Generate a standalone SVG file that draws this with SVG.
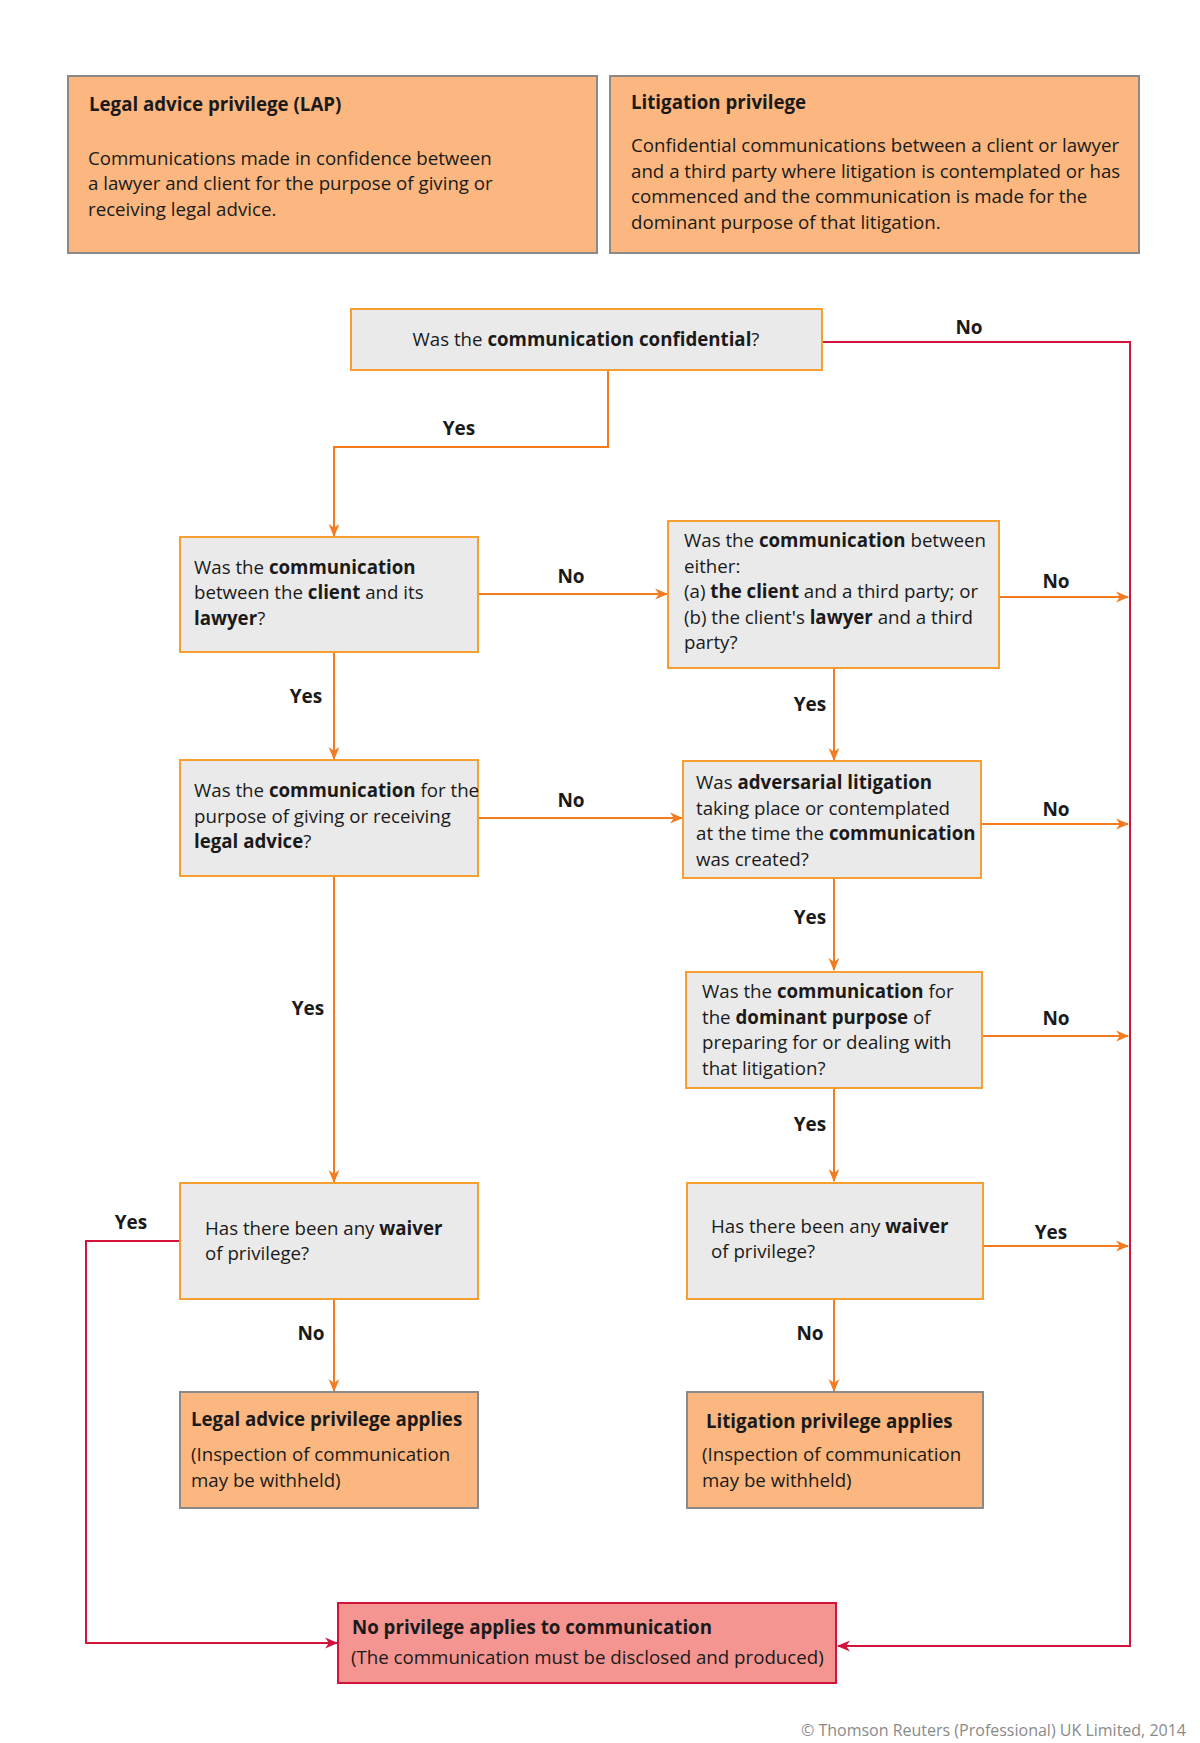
<svg xmlns="http://www.w3.org/2000/svg" width="1200" height="1743" viewBox="0 0 1200 1743">
<style>
text{font-family:"Open Sans","Noto Sans",sans-serif;font-size:18.7px;fill:#1a1a1a}
.b{font-weight:bold}
.lbl{font-weight:bold;font-size:19px;text-anchor:middle}
.info{fill:#FBB77F;stroke:#8a8a8a;stroke-width:2}
.q{fill:#EAEAEA;stroke:#F7A031;stroke-width:2}
.res{fill:#FBB77F;stroke:#8a8a8a;stroke-width:2}
.none{fill:#F49591;stroke:#D2143A;stroke-width:2}
.co{fill:none;stroke:#F47B20;stroke-width:2}
.cr{fill:none;stroke:#D2143A;stroke-width:2}
.copy{font-size:16px;fill:#8a8a8a;text-anchor:end}
</style>
<defs>
<marker id="ao" viewBox="0 0 12 12" refX="11" refY="6" markerWidth="13" markerHeight="13" markerUnits="userSpaceOnUse" orient="auto"><path d="M0,1 L12,6 L0,11 L3.5,6 z" fill="#F47B20"/></marker>
<marker id="ar" viewBox="0 0 12 12" refX="11" refY="6" markerWidth="13" markerHeight="13" markerUnits="userSpaceOnUse" orient="auto"><path d="M0,1 L12,6 L0,11 L3.5,6 z" fill="#D2143A"/></marker>
</defs>
<rect width="1200" height="1743" fill="#fff"/>

<g id="lap-info">
<rect class="info" x="68" y="76" width="529" height="177"/>
<text x="89" y="111" class="b">Legal advice privilege (LAP)</text>
<text x="88" y="165">Communications made in confidence between</text>
<text x="88" y="190">a lawyer and client for the purpose of giving or</text>
<text x="88" y="216">receiving legal advice.</text>
</g>
<g id="lit-info">
<rect class="info" x="610" y="76" width="529" height="177"/>
<text x="631" y="109" class="b">Litigation privilege</text>
<text x="631" y="152">Confidential communications between a client or lawyer</text>
<text x="631" y="178">and a third party where litigation is contemplated or has</text>
<text x="631" y="203">commenced and the communication is made for the</text>
<text x="631" y="229">dominant purpose of that litigation.</text>
</g>

<g id="connectors">
<path class="cr" d="M822,342 H1130 V1646 H838" marker-end="url(#ar)"/>
<path class="co" d="M608,370 V447 H334 V536" marker-end="url(#ao)"/>
<path class="co" d="M478,594 H667" marker-end="url(#ao)"/>
<path class="co" d="M999,597 H1128" marker-end="url(#ao)"/>
<path class="co" d="M334,652 V759" marker-end="url(#ao)"/>
<path class="co" d="M834,668 V760" marker-end="url(#ao)"/>
<path class="co" d="M478,818 H682" marker-end="url(#ao)"/>
<path class="co" d="M981,824 H1128" marker-end="url(#ao)"/>
<path class="co" d="M834,878 V970" marker-end="url(#ao)"/>
<path class="co" d="M982,1036 H1128" marker-end="url(#ao)"/>
<path class="co" d="M834,1088 V1181" marker-end="url(#ao)"/>
<path class="co" d="M334,876 V1182" marker-end="url(#ao)"/>
<path class="cr" d="M180,1241 H86 V1643 H337" marker-end="url(#ar)"/>
<path class="co" d="M334,1299 V1391" marker-end="url(#ao)"/>
<path class="co" d="M983,1246 H1128" marker-end="url(#ao)"/>
<path class="co" d="M834,1299 V1391" marker-end="url(#ao)"/>
<text class="lbl" x="969" y="334">No</text>
<text class="lbl" x="459" y="435">Yes</text>
<text class="lbl" x="571" y="583">No</text>
<text class="lbl" x="1056" y="588">No</text>
<text class="lbl" x="306" y="703">Yes</text>
<text class="lbl" x="810" y="711">Yes</text>
<text class="lbl" x="571" y="807">No</text>
<text class="lbl" x="1056" y="816">No</text>
<text class="lbl" x="810" y="924">Yes</text>
<text class="lbl" x="308" y="1015">Yes</text>
<text class="lbl" x="1056" y="1025">No</text>
<text class="lbl" x="810" y="1131">Yes</text>
<text class="lbl" x="131" y="1229">Yes</text>
<text class="lbl" x="1051" y="1239">Yes</text>
<text class="lbl" x="311" y="1340">No</text>
<text class="lbl" x="810" y="1340">No</text>
</g>

<g id="q-confidential">
<rect class="q" x="351" y="309" width="471" height="61"/>
<text x="586" y="346" text-anchor="middle">Was the <tspan class="b">communication confidential</tspan>?</text>
</g>
<g id="q-client-lawyer">
<rect class="q" x="180" y="537" width="298" height="115"/>
<text x="194" y="574">Was the <tspan class="b">communication</tspan></text>
<text x="194" y="599">between the <tspan class="b">client</tspan> and its</text>
<text x="194" y="625"><tspan class="b">lawyer</tspan>?</text>
</g>
<g id="q-third-party">
<rect class="q" x="668" y="521" width="331" height="147"/>
<text x="684" y="547">Was the <tspan class="b">communication</tspan> between</text>
<text x="684" y="573">either:</text>
<text x="684" y="598">(a) <tspan class="b">the client</tspan> and a third party; or</text>
<text x="684" y="624">(b) the client's <tspan class="b">lawyer</tspan> and a third</text>
<text x="684" y="649">party?</text>
</g>
<g id="q-legal-advice">
<rect class="q" x="180" y="760" width="298" height="116"/>
<text x="194" y="797">Was the <tspan class="b">communication</tspan> for the</text>
<text x="194" y="823">purpose of giving or receiving</text>
<text x="194" y="848"><tspan class="b">legal advice</tspan>?</text>
</g>
<g id="q-adversarial">
<rect class="q" x="683" y="761" width="298" height="117"/>
<text x="696" y="789">Was <tspan class="b">adversarial litigation</tspan></text>
<text x="696" y="815">taking place or contemplated</text>
<text x="696" y="840">at the time the <tspan class="b">communication</tspan></text>
<text x="696" y="866">was created?</text>
</g>
<g id="q-dominant">
<rect class="q" x="686" y="972" width="296" height="116"/>
<text x="702" y="998">Was the <tspan class="b">communication</tspan> for</text>
<text x="702" y="1024">the <tspan class="b">dominant purpose</tspan> of</text>
<text x="702" y="1049">preparing for or dealing with</text>
<text x="702" y="1075">that litigation?</text>
</g>
<g id="q-waiver-lap">
<rect class="q" x="180" y="1183" width="298" height="116"/>
<text x="205" y="1235">Has there been any <tspan class="b">waiver</tspan></text>
<text x="205" y="1260">of privilege?</text>
</g>
<g id="q-waiver-lit">
<rect class="q" x="687" y="1183" width="296" height="116"/>
<text x="711" y="1233">Has there been any <tspan class="b">waiver</tspan></text>
<text x="711" y="1258">of privilege?</text>
</g>
<g id="r-lap">
<rect class="res" x="180" y="1392" width="298" height="116"/>
<text x="191" y="1426" class="b">Legal advice privilege applies</text>
<text x="191" y="1461">(Inspection of communication</text>
<text x="191" y="1487">may be withheld)</text>
</g>
<g id="r-lit">
<rect class="res" x="687" y="1392" width="296" height="116"/>
<text x="706" y="1428" class="b">Litigation privilege applies</text>
<text x="702" y="1461">(Inspection of communication</text>
<text x="702" y="1487">may be withheld)</text>
</g>
<g id="r-none">
<rect class="none" x="338" y="1603" width="498" height="80"/>
<text x="352" y="1634" class="b">No privilege applies to communication</text>
<text x="351" y="1664">(The communication must be disclosed and produced)</text>
</g>
<text class="copy" x="1186" y="1736">© Thomson Reuters (Professional) UK Limited, 2014</text>
</svg>
